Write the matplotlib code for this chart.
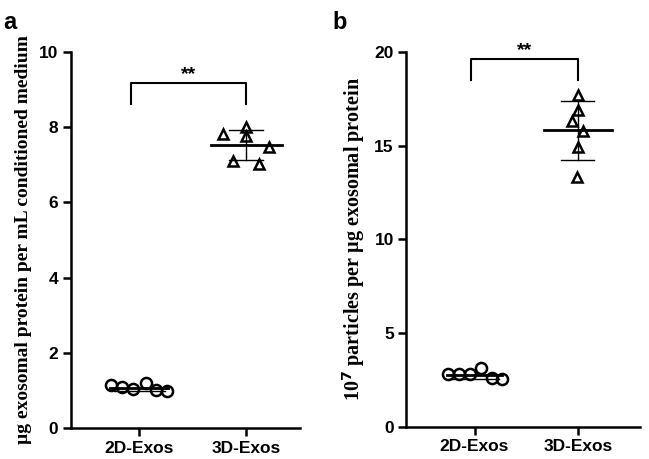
import numpy as np
import matplotlib
matplotlib.use("Agg")
import matplotlib.pyplot as plt

categories = ["2D-Exos", "3D-Exos"]

# Panel a: µg exosomal protein per mL conditioned medium
a_2d = [1.14, 1.09, 1.04, 1.20, 1.01, 0.98]
a_3d = [7.82, 8.00, 7.77, 7.47, 7.10, 7.02]
# Panel b: 10^7 particles per µg exosomal protein
b_2d = [2.80, 2.80, 2.80, 3.15, 2.60, 2.55]
b_3d = [17.7, 16.9, 16.3, 15.8, 14.9, 13.3]

a_yticks = [0, 2, 4, 6, 8, 10]
b_yticks = [0, 5, 10, 15, 20]

# horizontal jitter (category units) for the scatter points
jit_a2d = [-0.26, -0.16, -0.06, 0.06, 0.16, 0.26]
jit_a3d = [-0.22, 0.0, 0.0, 0.21, -0.12, 0.12]
jit_b2d = [-0.26, -0.15, -0.04, 0.06, 0.17, 0.27]
jit_b3d = [0.0, 0.0, -0.06, 0.05, 0.0, -0.01]

sans = ["Liberation Sans", "DejaVu Sans"]
serif = ["Liberation Serif", "DejaVu Serif"]

fig = plt.figure(figsize=(6.49, 4.59), dpi=100)
axA = fig.add_axes([0.109, 0.0675, 0.353, 0.8195])
axB = fig.add_axes([0.626, 0.070, 0.360, 0.817])


def draw_group(ax, idx, vals, jit, marker, ms, mean_w, cap_w, show_sd):
    x = [idx + j for j in jit]
    ax.plot(x, vals, linestyle="none", marker=marker, ms=ms, mfc="none",
            mec="black", mew=1.8, zorder=3)
    m = np.mean(vals)
    s = np.std(vals, ddof=1)
    ax.plot([idx - mean_w, idx + mean_w], [m, m], color="black", lw=2.0, zorder=2)
    if show_sd:
        ax.plot([idx, idx], [m - s, m + s], color="black", lw=1.0, zorder=2)
        ax.plot([idx - cap_w, idx + cap_w], [m + s, m + s], color="black", lw=1.0, zorder=2)
        ax.plot([idx - cap_w, idx + cap_w], [m - s, m - s], color="black", lw=1.0, zorder=2)
    else:
        ax.plot([idx - cap_w * 1.4, idx + cap_w * 1.4], [m - s, m - s], color="black", lw=1.0, zorder=2)


def style(ax, ylim, yticks, ylabel, xlim, lsize):
    ax.set_xlim(*xlim)
    ax.set_ylim(*ylim)
    ax.set_yticks(yticks)
    ax.set_xticks([0, 1])
    ax.set_xticklabels(categories)
    for sp in ["top", "right"]:
        ax.spines[sp].set_visible(False)
    for sp in ["left", "bottom"]:
        ax.spines[sp].set_linewidth(1.8)
    ax.tick_params(axis="both", width=1.8, length=6, labelsize=12.5, pad=3)
    for lab in ax.get_xticklabels() + ax.get_yticklabels():
        lab.set_fontfamily(sans)
        lab.set_fontweight("bold")
    ax.set_ylabel(ylabel, family=serif, fontweight="bold", fontsize=lsize, labelpad=5)


def bracket(ax, x0, x1, ytop, ybot, star_y):
    ax.plot([x0, x0, x1, x1], [ybot, ytop, ytop, ybot], color="black", lw=1.5,
            clip_on=False)
    ax.text((x0 + x1) / 2, star_y, "**", ha="center", va="center",
            family=sans, fontweight="bold", fontsize=14)


# Panel a
draw_group(axA, 0, a_2d, jit_a2d, "o", 8, 0.27, 0.17, False)
draw_group(axA, 1, a_3d, jit_a3d, "^", 7.5, 0.33, 0.16, True)
style(axA, (0, 10), a_yticks, "µg exosomal protein per mL conditioned medium",
      (-0.64, 1.5), 14.0)
bracket(axA, -0.08, 1.0, 9.18, 8.62, 9.4)

# Panel b
draw_group(axB, 0, b_2d, jit_b2d, "o", 8, 0.27, 0.17, False)
draw_group(axB, 1, b_3d, jit_b3d, "^", 7.5, 0.33, 0.16, True)
style(axB, (0, 20), b_yticks, r"10$^{\mathbf{7}}$ particles per µg exosomal protein",
      (-0.66, 1.6), 14.5)
bracket(axB, -0.03, 1.0, 19.6, 18.5, 20.05)

fig.text(0.005, 0.975, "a", family=sans, fontweight="bold", fontsize=17, va="top")
fig.text(0.512, 0.975, "b", family=sans, fontweight="bold", fontsize=17, va="top")

fig.savefig("out.png", dpi=100)
